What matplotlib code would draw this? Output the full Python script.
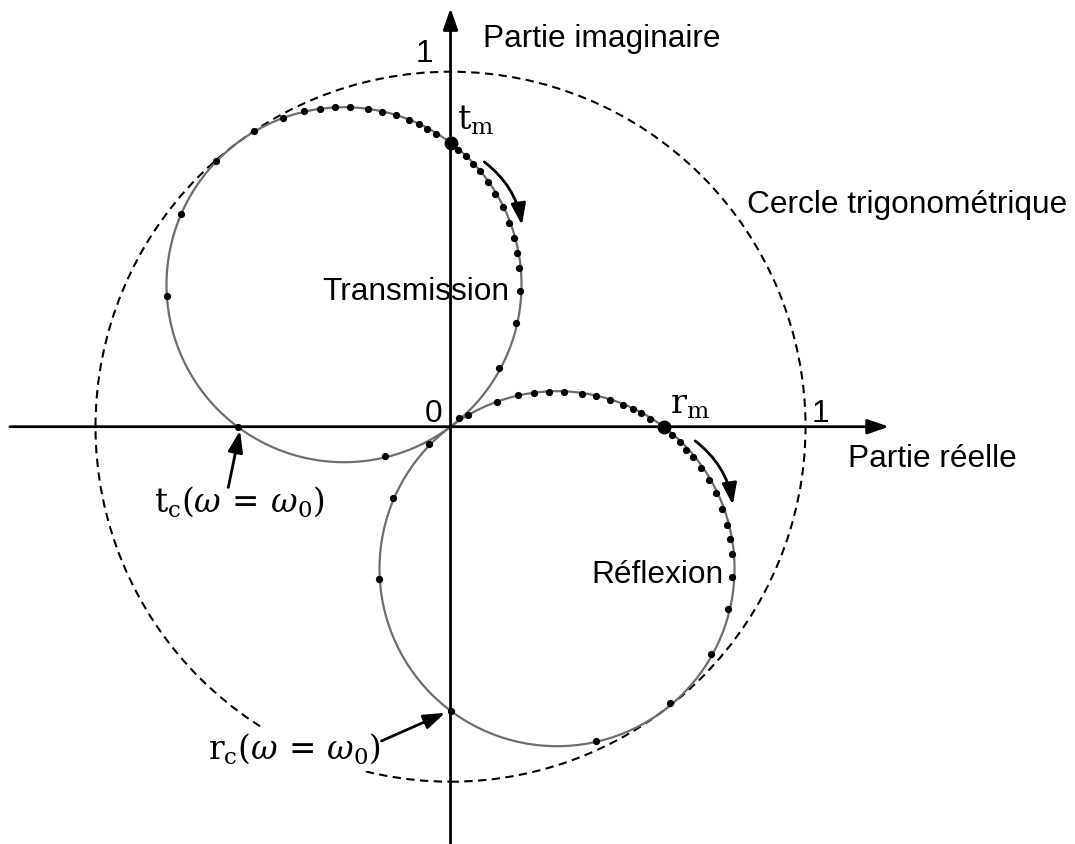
import numpy as np
import matplotlib
matplotlib.use('Agg')
import matplotlib.pyplot as plt
from matplotlib.patches import Circle

plt.rcParams['font.family'] = ['Liberation Sans', 'DejaVu Sans']
plt.rcParams['mathtext.fontset'] = 'dejavuserif'

# circles (centre, radius) in units of the trigonometric circle
unit_center = (0.0, 0.0)
unit_radius = 1.0
t_center = (-0.3, 0.4)
r_center = (0.3, -0.4)
lor_radius = 0.5

# particular points
t_m = (0.0, 0.8)
t_c = (-0.6, 0.0)
r_m = (0.6, 0.0)
r_c = (0.0, -0.8)

# sampled points read on the transmission circle
t_x = [-0.799, -0.760, -0.661, -0.554, -0.473, -0.412, -0.368, -0.326, -0.283,
       -0.233, -0.192, -0.153, -0.117, -0.090, -0.066, -0.041,
       0.022, 0.043, 0.063, 0.082, 0.105, 0.126, 0.147, 0.165, 0.180, 0.188,
       0.194, 0.196, 0.185, 0.137, 0.024, -0.184, -0.6]
t_y = [0.369, 0.598, 0.748, 0.832, 0.870, 0.888, 0.896, 0.900, 0.900,
       0.895, 0.887, 0.877, 0.864, 0.853, 0.839, 0.825,
       0.780, 0.763, 0.741, 0.719, 0.690, 0.655, 0.618, 0.575, 0.532, 0.489,
       0.446, 0.382, 0.293, 0.166, 0.025, -0.082, 0.0]

# sampled points read on the reflection circle
r_x = [0.048, 0.130, 0.191, 0.235, 0.277, 0.321, 0.370, 0.411, 0.450, 0.486,
       0.513, 0.537, 0.562,
       0.624, 0.645, 0.664, 0.684, 0.706, 0.727, 0.747, 0.766, 0.779, 0.788,
       0.793, 0.794, 0.781, 0.733, 0.618, 0.411, 0.0, -0.201, -0.161, -0.060]
r_y = [0.033, 0.070, 0.088, 0.095, 0.099, 0.098, 0.093, 0.086, 0.075, 0.062,
       0.050, 0.038, 0.022,
       -0.023, -0.043, -0.065, -0.086, -0.116, -0.149, -0.188, -0.233, -0.276,
       -0.316, -0.359, -0.423, -0.514, -0.639, -0.779, -0.885, -0.8, -0.429,
       -0.200, -0.049]

fig = plt.figure(figsize=(10.75, 8.44), dpi=100)
ax = fig.add_axes([0, 0, 1, 1])
ax.set_xlim(-1.269, 1.759)
ax.set_ylim(-1.1755, 1.202)
ax.axis('off')

# axes with arrows
arrow = dict(arrowstyle='-|>,head_length=1.3,head_width=0.45', lw=2, color='k',
             mutation_scale=10, shrinkA=0, shrinkB=0)
ax.annotate('', xy=(1.235, 0), xytext=(-1.241, 0), arrowprops=arrow, zorder=3)
ax.annotate('', xy=(0, 1.179), xytext=(0, -1.18), arrowprops=arrow, zorder=3)

# circles
ax.add_patch(Circle(unit_center, unit_radius, fill=False, color='k', lw=1.5,
                    linestyle=(0, (4, 2.6)), zorder=1))
ax.add_patch(Circle(t_center, lor_radius, fill=False, color='#6e6e6e', lw=1.6, zorder=2))
ax.add_patch(Circle(r_center, lor_radius, fill=False, color='#6e6e6e', lw=1.6, zorder=2))

ax.plot(t_x, t_y, 'o', color='k', ms=4.2, zorder=4)
ax.plot(r_x, r_y, 'o', color='k', ms=4.2, zorder=4)
ax.plot([t_m[0], r_m[0]], [t_m[1], r_m[1]], 'o', color='k', ms=9, zorder=5)

# curved arrows showing the direction of increasing omega
carrow = dict(arrowstyle='-|>,head_length=1.3,head_width=0.45', lw=2, color='k',
              mutation_scale=10, shrinkA=0, shrinkB=0,
              connectionstyle='arc3,rad=-0.2')
ax.annotate('', xy=(0.201, 0.568), xytext=(0.095, 0.746), arrowprops=carrow)
ax.annotate('', xy=(0.795, -0.220), xytext=(0.689, -0.040), arrowprops=carrow)

# text
fs = 22.8
ax.text(0.092, 1.070, 'Partie imaginaire', fontsize=fs, ha='left', va='baseline')
ax.text(0.834, 0.601, 'Cercle trigonométrique', fontsize=fs, ha='left', va='baseline')
ax.text(-0.360, 0.357, 'Transmission', fontsize=fs, ha='left', va='baseline', zorder=6)
ax.text(0.398, -0.441, 'Réflexion', fontsize=fs, ha='left', va='baseline', zorder=6)
ax.text(1.120, -0.113, 'Partie réelle', fontsize=fs, ha='left', va='baseline')
ax.text(-0.022, 0.014, '0', fontsize=fs, ha='right', va='baseline')
ax.text(1.018, 0.014, '1', fontsize=fs, ha='left', va='baseline')
ax.text(-0.048, 1.028, '1', fontsize=fs, ha='right', va='baseline')

ms = 24
ax.text(0.017, 0.836, r'$\mathrm{t_m}$', fontsize=ms, ha='left', va='baseline')
ax.text(0.618, 0.038, r'$\mathrm{r_m}$', fontsize=ms, ha='left', va='baseline')
ax.text(-0.836, -0.240, r'$\mathrm{t_c}(\omega\,=\,\omega_0)$', fontsize=23.5,
        ha='left', va='baseline')
ax.text(-0.683, -0.936, r'$\mathrm{r_c}(\omega\,=\,\omega_0)$', fontsize=23.5,
        ha='left', va='baseline', zorder=6,
        bbox=dict(facecolor='white', edgecolor='none', pad=3))

# pointers to the resonance values
parrow = dict(arrowstyle='-|>,head_length=1.3,head_width=0.45', lw=2, color='k',
              mutation_scale=10, shrinkA=0, shrinkB=0)
ax.annotate('', xy=(-0.593, -0.011), xytext=(-0.626, -0.171), arrowprops=parrow)
ax.annotate('', xy=(-0.015, -0.806), xytext=(-0.194, -0.885), arrowprops=parrow,
            zorder=7)

fig.savefig('out.png', dpi=100)
